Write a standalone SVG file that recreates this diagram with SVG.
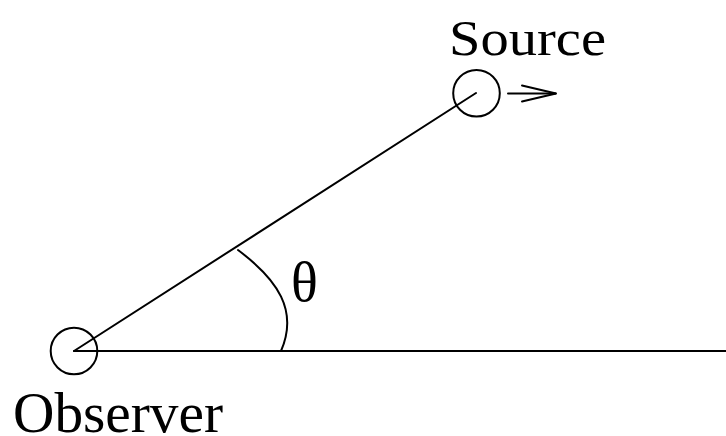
<svg xmlns="http://www.w3.org/2000/svg" width="726" height="436" viewBox="0 0 726 436">
<style>
.ln{fill:none;stroke:#000;stroke-width:2;stroke-linecap:round}
.t{font-family:"Liberation Serif","Times New Roman",serif;fill:#000}
</style>
<rect width="726" height="436" fill="#fff"/>
<g id="connectors">
<line class="ln" x1="74" y1="351" x2="726" y2="351"/>
<line class="ln" x1="74" y1="351" x2="476" y2="93"/>
<path class="ln" d="M238,250 C278,280 298.5,310.6 281,351"/>
<line class="ln" x1="508" y1="93.5" x2="556" y2="93.5"/>
<polyline class="ln" points="522,85.5 556,93.5 522,101.5"/>
</g>
<g id="observer">
<circle class="ln" cx="74" cy="351" r="23.3"/>
<text class="t" x="13" y="432" font-size="56" textLength="210" lengthAdjust="spacingAndGlyphs">Observer</text>
</g>
<g id="source">
<circle class="ln" cx="476.5" cy="93.3" r="23.3"/>
<text class="t" x="449" y="55" font-size="51" textLength="157" lengthAdjust="spacingAndGlyphs">Source</text>
</g>
<g id="theta">
<text class="t" x="291" y="301" font-size="56">θ</text>
</g>
</svg>
